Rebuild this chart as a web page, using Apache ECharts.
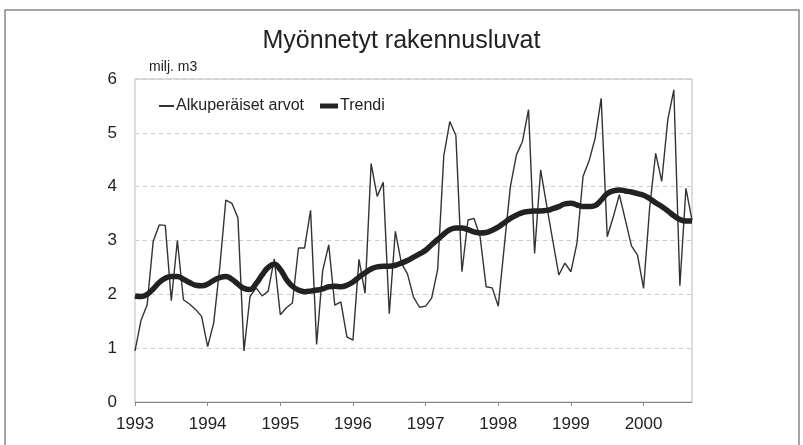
<!DOCTYPE html>
<html>
<head>
<meta charset="utf-8">
<script src="https://cdn.jsdelivr.net/npm/echarts@6/dist/echarts.min.js"></script>
<style>html,body{margin:0;padding:0;background:#fff}#c{width:803px;height:445px}</style>
</head>
<body>
<div id="c"></div>
<script>
var years = ['1993','1994','1995','1996','1997','1998','1999','2000'];
var monthsInLastYear = 9;
var raw = [0.95,1.52,1.8,2.98,3.29,3.28,1.88,3.0,1.9,1.82,1.72,1.59,
1.03,1.47,2.5,3.75,3.69,3.42,0.95,1.96,2.12,1.97,2.06,2.66,
1.62,1.75,1.84,2.86,2.86,3.56,1.07,2.44,2.92,1.8,1.86,1.21,
1.15,2.65,2.02,4.43,3.82,4.08,1.64,3.17,2.58,2.38,1.95,1.76,
1.78,1.93,2.47,4.57,5.21,4.95,2.42,3.38,3.41,3.07,2.14,2.12,
1.78,2.9,4.0,4.59,4.84,5.43,2.76,4.31,3.65,3.0,2.36,2.58,
2.42,2.95,4.19,4.48,4.9,5.64,3.07,3.44,3.85,3.38,2.9,2.73,
2.11,3.6,4.62,4.1,5.24,5.8,2.16,3.97,3.38];
var trend = [1.97,1.96,2.0,2.1,2.22,2.3,2.33,2.33,2.28,2.22,2.17,2.16,
2.19,2.26,2.31,2.33,2.28,2.19,2.11,2.09,2.2,2.36,2.5,2.56,
2.46,2.28,2.15,2.08,2.05,2.06,2.08,2.1,2.14,2.15,2.14,2.17,
2.23,2.32,2.4,2.47,2.51,2.52,2.52,2.54,2.58,2.63,2.69,2.75,
2.82,2.92,3.02,3.12,3.2,3.23,3.23,3.2,3.16,3.14,3.15,3.19,
3.25,3.33,3.41,3.47,3.52,3.54,3.55,3.55,3.56,3.59,3.63,3.68,
3.69,3.66,3.63,3.63,3.65,3.75,3.87,3.92,3.94,3.92,3.9,3.87,
3.84,3.78,3.7,3.63,3.55,3.46,3.39,3.36,3.36];

var categories = [];
years.forEach(function(y, yi){
  var n = (yi === years.length - 1) ? monthsInLastYear : 12;
  for (var m = 1; m <= n; m++) categories.push(y + '-' + (m < 10 ? '0' + m : m));
});

var font = '"Liberation Sans", Arial, sans-serif';
var chart = echarts.init(document.getElementById('c'));
chart.setOption({
  animation: false,
  backgroundColor: '#fff',
  textStyle: {fontFamily: font, color: '#222'},
  graphic: [{
    type: 'rect', shape: {x: 5, y: 10, width: 794, height: 460},
    style: {fill: 'none', stroke: '#888', lineWidth: 1.5}, silent: true
  }],
  title: {
    text: 'Myönnetyt rakennusluvat', left: 'center', top: 24,
    textStyle: {fontFamily: font, fontSize: 25, fontWeight: 'normal', color: '#222'}
  },
  legend: [{
    data: ['Alkuperäiset arvot'], left: 154, top: 93, icon: 'rect',
    itemWidth: 15, itemHeight: 2, itemGap: 4,
    textStyle: {fontFamily: font, fontSize: 16, color: '#222', padding: [0,0,0,-3]}
  }, {
    data: ['Trendi'], left: 315, top: 93, icon: 'rect',
    itemWidth: 18, itemHeight: 5,
    textStyle: {fontFamily: font, fontSize: 16, color: '#222', padding: [0,0,0,-3]}
  }],
  grid: {left: 135, right: 111, top: 79, bottom: 43, show: true, borderColor: '#bbb', borderWidth: 1},
  xAxis: {
    type: 'category', data: categories, boundaryGap: false,
    axisLine: {lineStyle: {color: '#888'}},
    axisTick: {interval: 11, length: 4, lineStyle: {color: '#888'}},
    axisLabel: {
      interval: 11, margin: 14, fontSize: 17, color: '#222', fontFamily: font,
      formatter: function(v){ return v.slice(5) === '01' ? v.slice(0,4) : ''; }
    },
    splitLine: {show: false}
  },
  yAxis: {
    type: 'value', min: 0, max: 6, interval: 1,
    name: 'milj. m3', nameLocation: 'end', nameGap: 5,
    nameTextStyle: {fontFamily: font, fontSize: 14, color: '#222', align: 'left', padding: [0,0,0,14]},
    axisLine: {show: false}, axisTick: {show: false},
    axisLabel: {fontSize: 17, color: '#222', margin: 18, fontFamily: font},
    splitLine: {lineStyle: {color: '#ccc', type: [4, 4]}}
  },
  series: [{
    name: 'Alkuperäiset arvot', type: 'line', data: raw, symbol: 'none',
    lineStyle: {color: '#333', width: 1.4}, itemStyle: {color: '#333'}, z: 2
  }, {
    name: 'Trendi', type: 'line', data: trend, symbol: 'none', smooth: true,
    lineStyle: {color: '#222', width: 5.5}, itemStyle: {color: '#222'}, z: 3
  }]
});
</script>
</body>
</html>
